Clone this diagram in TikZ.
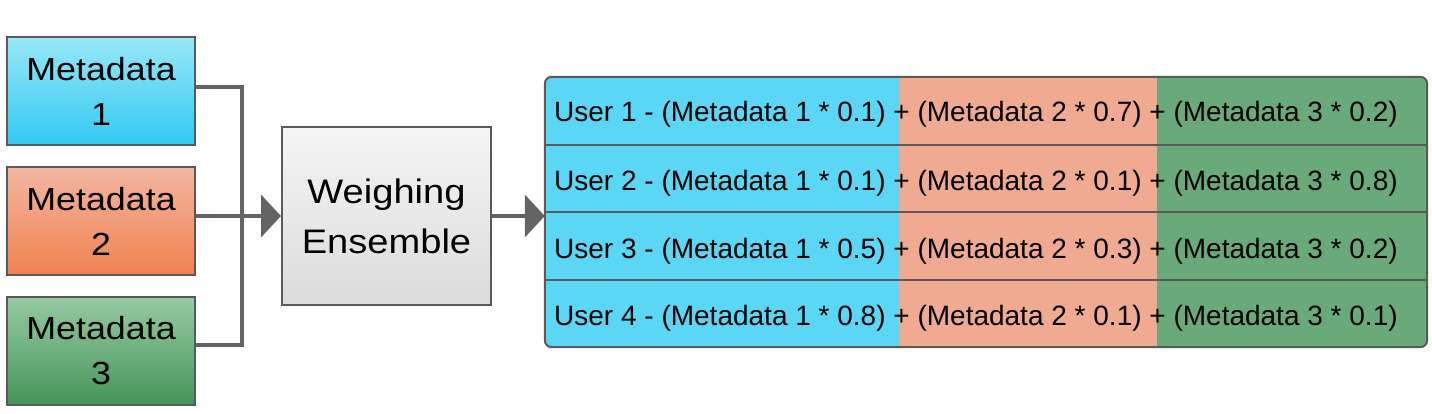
\documentclass[tikz,border=0pt]{standalone}
\usepackage{fontspec}
\setmainfont{Liberation Sans}
\newfontfamily\boxfont[FakeStretch=1.12]{Liberation Sans}
\usetikzlibrary{arrows.meta,positioning}
\definecolor{edgegray}{RGB}{90,90,90}
\definecolor{linkgray}{RGB}{100,100,100}
\definecolor{cyantop}{RGB}{152,232,246}
\definecolor{cyanbot}{RGB}{51,200,242}
\definecolor{salmontop}{RGB}{242,182,162}
\definecolor{salmonbot}{RGB}{240,130,80}
\definecolor{greentop}{RGB}{150,202,162}
\definecolor{greenbot}{RGB}{70,148,90}
\definecolor{rowblue}{RGB}{91,214,245}
\definecolor{rowsalmon}{RGB}{240,170,145}
\definecolor{rowgreen}{RGB}{106,170,122}

\begin{document}
\begin{tikzpicture}[x=1pt,y=-1pt,
      source/.style={
         rectangle,
         minimum width=188pt,
         minimum height=108pt,
         inner sep=0pt,
         line width=2pt,
         draw=edgegray,
         align=center,
         font=\boxfont\fontsize{32}{45}\selectfont
      },
      ensemble/.style={
         source,
         minimum width=209pt,
         minimum height=178pt,
         top color=white!96!black,
         bottom color=white!86!black,
         font=\boxfont\fontsize{34}{50}\selectfont
      },
      result/.style={
         rectangle,
         minimum width=882pt,
         minimum height=270pt,
         inner sep=0pt
      },
      rowtext/.style={
         anchor=west,
         inner sep=0pt,
         font=\fontsize{28}{30}\selectfont
      },
      link/.style={line width=4pt,draw=linkgray},
      tip/.style={-{Triangle[length=20pt,width=42pt]}}
    ]
    \useasboundingbox (0,0) rectangle (1432,413);

    \node (m1) [source, top color=cyantop, bottom color=cyanbot] at (101,91) {Metadata\\1};
    \node (m2) [source, top color=salmontop, bottom color=salmonbot] at (101,221) {Metadata\\2};
    \node (m3) [source, top color=greentop, bottom color=greenbot] at (101,351) {Metadata\\3};
    \node (we) [ensemble] at (386.5,216) {Weighing\\Ensemble};
    \node (tbl) [result] at (986,212) {};
    \coordinate (bus) at (242,216);

    % joining the three inputs
    \draw [link] ([yshift=4pt]m1.east) -| (bus);
    \draw [link] ([yshift=6pt]m3.east) -| (bus);
    \draw [link,tip] (m2.east |- we.west) -- (we.west);
    \draw [link,tip] (we.east) -- (tbl.west |- we.east);

    % weighted rows
    \begin{scope}
      \clip [rounded corners=7pt] (tbl.north west) rectangle (tbl.south east);
      \fill [rowblue] (tbl.north west) rectangle (899,347);
      \fill [rowsalmon] (899,77) rectangle (1157,347);
      \fill [rowgreen] (1157,77) rectangle (tbl.south east);
    \end{scope}
    \foreach \y in {145,212,280}
      \draw [line width=2pt,draw=edgegray] (tbl.west |- 0,\y) -- (tbl.east |- 0,\y);
    \draw [line width=2pt,draw=edgegray,rounded corners=7pt] (tbl.north west) rectangle (tbl.south east);
    \foreach \u/\a/\b/\c/\y in {1/0.1/0.7/0.2/114, 2/0.1/0.1/0.8/183, 3/0.5/0.3/0.2/251, 4/0.8/0.1/0.1/318}
      \node (r\u) [rowtext] at (554,\y) {User \u\ - (Metadata 1 * \a) + (Metadata 2 * \b) + (Metadata 3 * \c)};
\end{tikzpicture}
\end{document}
